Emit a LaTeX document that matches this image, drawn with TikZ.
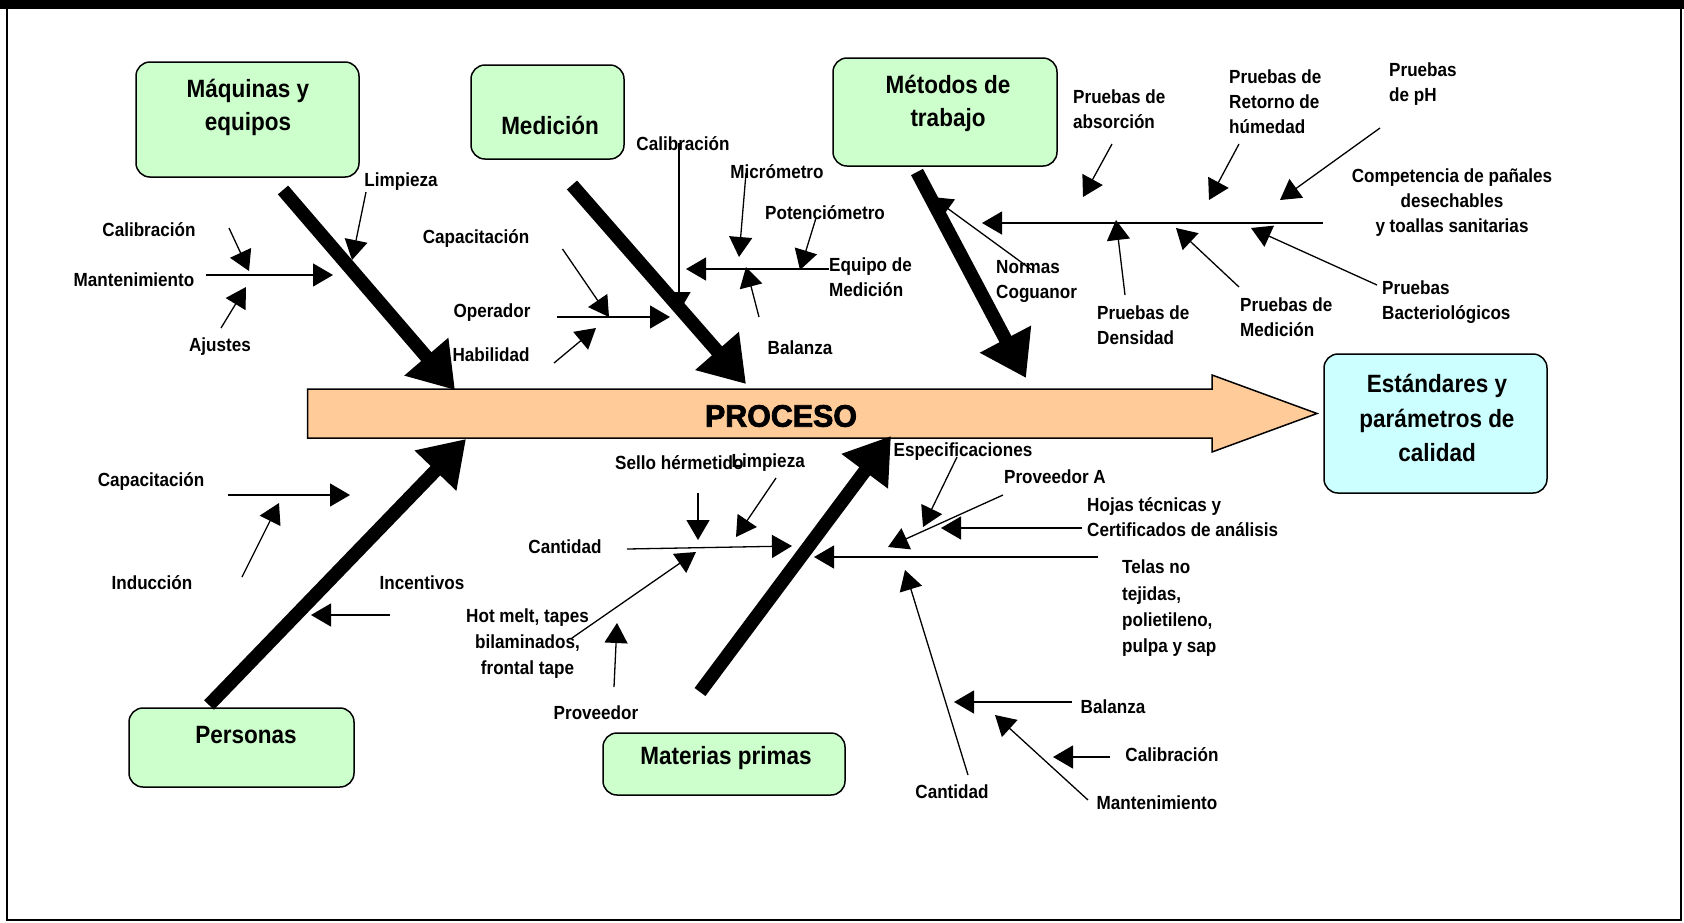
\documentclass[tikz,border=0pt]{standalone}
\usepackage{fontspec}
\setmainfont{Liberation Sans}
\newfontfamily\lblfont{Liberation Sans}[FakeStretch=0.9]
\newfontfamily\procfont{Liberation Sans}[FakeStretch=0.98,FakeBold=2.5]
\usetikzlibrary{arrows.meta}
\definecolor{boxgreen}{HTML}{CCFFCC}
\definecolor{boxcyan}{HTML}{CCFFFF}
\definecolor{procorange}{HTML}{FFCC99}
\begin{document}
\begin{tikzpicture}[x=1pt,y=-1pt,
  lbl/.style={font=\lblfont\bfseries\fontsize{19}{25}\selectfont, inner sep=0pt},
  ttl/.style={font=\lblfont\bfseries\fontsize{25}{33}\selectfont, inner sep=0pt, align=center},
  catbox/.style={draw=black, line width=1.5pt, rounded corners=14pt, fill=boxgreen, inner sep=0pt},
  bigarrow/.style={line width=13.5pt, -{Triangle[length=44pt,width=55pt]}},
  smallarrow/.style={line width=1.3pt, -{Triangle[length=20pt,width=23pt]}},
]
\useasboundingbox (0,0) rectangle (1684,922);
% frame
\fill[black] (0,0) rectangle (1684,9);
\draw[line width=2pt] (7,0) -- (7,920) -- (1681,920) -- (1681,0);

% category boxes
\node[catbox, minimum width=223pt, minimum height=115pt] (maqbox) at (247.5,119.5) {};
\node[ttl] (maqT) at (248,107) {Máquinas y\\equipos};
\node[catbox, minimum width=153pt, minimum height=94pt] (medbox) at (547.5,112) {};
\node[ttl] (medT) at (550,125) {Medición};
\node[catbox, minimum width=224pt, minimum height=108pt] (metbox) at (945,112) {};
\node[ttl] (metT) at (948,103.5) {Métodos de\\trabajo};
\node[catbox, minimum width=225pt, minimum height=79pt] (perbox) at (241.5,747.5) {};
\node[ttl] (perT) at (246,735) {Personas};
\node[catbox, minimum width=242pt, minimum height=62pt] (matbox) at (724,764) {};
\node[ttl] (matT) at (726,758) {Materias primas};
\node[catbox, fill=boxcyan, minimum width=223pt, minimum height=139pt] (estbox) at (1435.5,423.5) {};
\node[ttl, font=\lblfont\bfseries\fontsize{25}{34.5}\selectfont] (estT) at (1437,418) {Estándares y\\parámetros de\\calidad};

% process arrow
\draw[fill=procorange, line width=1.5pt, line join=miter]
  (307.5,389) -- (1212,389) -- (1212,375) -- (1317,413.5) -- (1212,452) -- (1212,438) -- (307.5,438) -- cycle;
\node[font=\procfont\bfseries\fontsize{31}{35}\selectfont, inner sep=0pt] (proc) at (781,416) {PROCESO};

% arrow behind the thick line
\coordinate (cB1) at (679,143);
\coordinate (cB2) at (679,312);
\draw[smallarrow] (cB1) -- (cB2);

% main arrows
\coordinate (maqS) at (283,190); \coordinate (maqE) at (455,390);
\coordinate (medS) at (572,185); \coordinate (medE) at (746,384);
\coordinate (metS) at (917,172); \coordinate (metE) at (1026,378);
\coordinate (perS) at (209,705); \coordinate (perE) at (466,439);
\coordinate (matS) at (700,692); \coordinate (matE) at (891,436);
\draw[bigarrow] (maqS) -- (maqE);
\draw[bigarrow] (medS) -- (medE);
\draw[bigarrow] (metS) -- (metE);
\draw[bigarrow] (perS) -- (perE);
\draw[bigarrow] (matS) -- (matE);

% small arrows: coordinates
\coordinate (a1s) at (229,228);   \coordinate (a1e) at (249,271);
\coordinate (a2s) at (206,275);   \coordinate (a2e) at (333,275);
\coordinate (a3s) at (221,328);   \coordinate (a3e) at (246,287);
\coordinate (a4s) at (366,192);   \coordinate (a4e) at (352,260);
\coordinate (a5s) at (562.5,249); \coordinate (a5e) at (609,317);
\coordinate (a6s) at (557,317);   \coordinate (a6e) at (670,317);
\coordinate (a7s) at (554,363);   \coordinate (a7e) at (596,328);
\coordinate (a9s) at (829,269);   \coordinate (a9e) at (686,269);
\coordinate (a10s) at (746,173);  \coordinate (a10e) at (739,257);
\coordinate (a11s) at (816,218);  \coordinate (a11e) at (800,270);
\coordinate (a12s) at (759,317);  \coordinate (a12e) at (746,267);
\coordinate (a13s) at (1323,223); \coordinate (a13e) at (982,223);
\coordinate (a14s) at (1032,270); \coordinate (a14e) at (932,197);
\coordinate (a15s) at (1112,144); \coordinate (a15e) at (1083,197);
\coordinate (a16s) at (1239,144); \coordinate (a16e) at (1209,200);
\coordinate (a17s) at (1380,128); \coordinate (a17e) at (1280,200);
\coordinate (a18s) at (1125,295); \coordinate (a18e) at (1116,220);
\coordinate (a19s) at (1239,287); \coordinate (a19e) at (1176,228);
\coordinate (a20s) at (1377,285); \coordinate (a20e) at (1251,228);
\coordinate (a21s) at (228,495);  \coordinate (a21e) at (350,495);
\coordinate (a22s) at (242,577);  \coordinate (a22e) at (279,503);
\coordinate (a23s) at (390,615);  \coordinate (a23e) at (311,615);
\coordinate (a24s) at (698,493);  \coordinate (a24e) at (698,540);
\coordinate (a25s) at (776,478);  \coordinate (a25e) at (736,537);
\coordinate (a26s) at (627,549);  \coordinate (a26e) at (792,546);
\coordinate (a27s) at (572,638);  \coordinate (a27e) at (696,552);
\coordinate (a28s) at (614,687);  \coordinate (a28e) at (617,623);
\coordinate (a29s) at (957,457);  \coordinate (a29e) at (923,527);
\coordinate (a30s) at (1003,495); \coordinate (a30e) at (888,547);
\coordinate (a31s) at (1082,528); \coordinate (a31e) at (941,528);
\coordinate (a32s) at (1098,557); \coordinate (a32e) at (814,557);
\coordinate (a33s) at (968,775);  \coordinate (a33e) at (905,570);
\coordinate (a34s) at (1072,702); \coordinate (a34e) at (954,702);
\coordinate (a35s) at (1110,757); \coordinate (a35e) at (1053,757);
\coordinate (a36s) at (1088,800); \coordinate (a36e) at (995,715);
\foreach \i in {1,2,3,4,5,6,7,9,10,11,12,13,14,15,16,17,18,19,20,21,22,23,24,25,26,27,28,29,30,31,32,33,34,35,36}
  \draw[smallarrow] (a\i s) -- (a\i e);

% labels
\node[lbl] (calA) at (149,230) {Calibración};
\node[lbl] (manA) at (134,280) {Mantenimiento};
\node[lbl] (ajuA) at (220,347) {Ajustes};
\node[lbl] (limA) at (401,182) {Limpieza};
\node[lbl] (capB) at (476,238) {Capacitación};
\node[lbl] (opeB) at (492,313) {Operador};
\node[lbl] (habB) at (491,355) {Habilidad};
\node[lbl] (calB) at (683,144) {Calibración};
\node[lbl] (micB) at (777,172) {Micrómetro};
\node[lbl] (potB) at (825,213) {Potenciómetro};
\node[lbl, align=left, anchor=west] (equB) at (829,277.5) {Equipo de\\Medición};
\node[lbl] (balB) at (800,348) {Balanza};
\node[lbl, align=left, anchor=west] (norC) at (996,281.5) {Normas\\Coguanor};
\node[lbl, align=left, anchor=west] (absC) at (1073,109.5) {Pruebas de\\absorción};
\node[lbl, align=left, anchor=west] (retC) at (1229,102) {Pruebas de\\Retorno de\\húmedad};
\node[lbl, align=left, anchor=west] (phC) at (1389,84.5) {Pruebas\\de pH};
\node[lbl, align=center] (comC) at (1452,203) {Competencia de pañales\\desechables\\y toallas sanitarias};
\node[lbl, align=left, anchor=west] (denC) at (1097,325.5) {Pruebas de\\Densidad};
\node[lbl, align=left, anchor=west] (medC) at (1240,317.5) {Pruebas de\\Medición};
\node[lbl, align=left, anchor=west] (bacC) at (1382,302.5) {Pruebas\\Bacteriológicos};
\node[lbl] (capD) at (151,481) {Capacitación};
\node[lbl] (indD) at (152,583) {Inducción};
\node[lbl] (incD) at (422,583) {Incentivos};
\node[lbl, anchor=west] (selE) at (615,463) {Sello hérmetido};
\node[lbl, anchor=east] (limE) at (805,463) {Limpieza};
\node[lbl] (canE) at (565,547) {Cantidad};
\node[lbl, align=center, font=\lblfont\bfseries\fontsize{19}{26}\selectfont] (hotE) at (527.5,644) {Hot melt, tapes\\bilaminados,\\frontal tape};
\node[lbl] (proE) at (596,713) {Proveedor};
\node[lbl] (espE) at (963,452) {Especificaciones};
\node[lbl] (prAE) at (1055,477) {Proveedor A};
\node[lbl, align=left, anchor=west] (hojE) at (1087,517.5) {Hojas técnicas y\\Certificados de análisis};
\node[lbl, align=left, anchor=west, font=\lblfont\bfseries\fontsize{19}{26.3}\selectfont] (telE) at (1122,608.5) {Telas no\\tejidas,\\polietileno,\\pulpa y sap};
\node[lbl] (canF) at (952,792) {Cantidad};
\node[lbl] (balF) at (1113,707) {Balanza};
\node[lbl] (calF) at (1172,755) {Calibración};
\node[lbl] (manF) at (1157,803) {Mantenimiento};
\end{tikzpicture}
\end{document}
